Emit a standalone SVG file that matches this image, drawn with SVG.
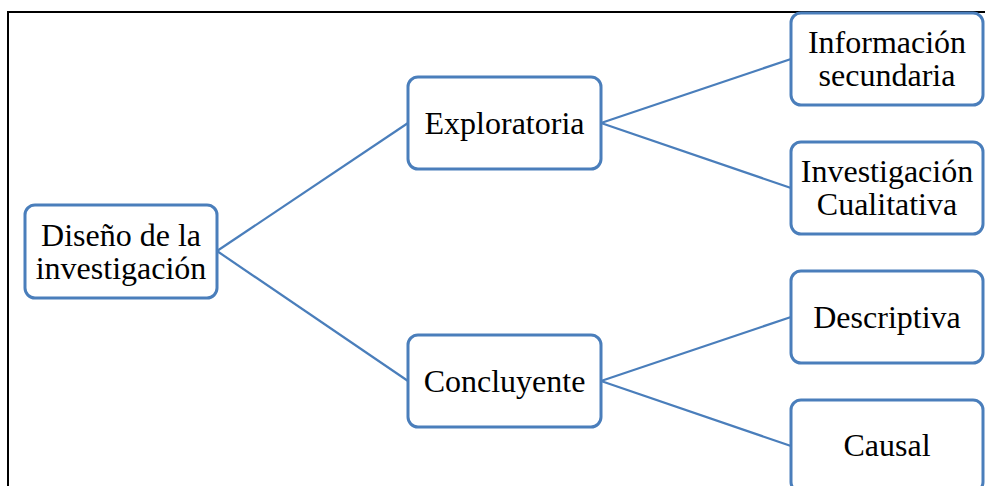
<svg xmlns="http://www.w3.org/2000/svg" width="985" height="486" viewBox="0 0 985 486">
  <style>
    .box { fill: #ffffff; stroke: #4a7ebb; stroke-width: 3; }
    .link { stroke: #4a7ebb; stroke-width: 2.2; fill: none; }
    .label { font-family: "Liberation Serif", "Times New Roman", serif; font-size: 32px; fill: #000000; text-anchor: middle; }
  </style>
  <rect width="985" height="486" fill="#ffffff"/>
  <!-- outer frame -->
  <path d="M8 490 V12 H990" fill="none" stroke="#000000" stroke-width="2"/>

  <g id="connectors">
    <line class="link" x1="217" y1="251" x2="408" y2="123"/>
    <line class="link" x1="217" y1="251" x2="408" y2="381"/>
    <line class="link" x1="601" y1="123" x2="791" y2="59"/>
    <line class="link" x1="601" y1="123" x2="791" y2="188"/>
    <line class="link" x1="601" y1="381" x2="791" y2="317"/>
    <line class="link" x1="601" y1="381" x2="791" y2="446"/>
  </g>

  <g id="diseno">
    <rect class="box" x="25" y="205" width="192" height="93" rx="10"/>
    <text class="label" x="121" y="246">Diseño de la</text>
    <text class="label" x="121" y="279">investigación</text>
  </g>

  <g id="exploratoria">
    <rect class="box" x="408" y="77" width="193" height="92" rx="10"/>
    <text class="label" x="504.5" y="134">Exploratoria</text>
  </g>

  <g id="concluyente">
    <rect class="box" x="408" y="335" width="193" height="92" rx="10"/>
    <text class="label" x="504.5" y="392">Concluyente</text>
  </g>

  <g id="informacion-secundaria">
    <rect class="box" x="791" y="13" width="192" height="92" rx="10"/>
    <text class="label" x="887" y="53">Información</text>
    <text class="label" x="887" y="86">secundaria</text>
  </g>

  <g id="investigacion-cualitativa">
    <rect class="box" x="791" y="142" width="192" height="92" rx="10"/>
    <text class="label" x="887" y="182">Investigación</text>
    <text class="label" x="887" y="215">Cualitativa</text>
  </g>

  <g id="descriptiva">
    <rect class="box" x="791" y="271" width="192" height="92" rx="10"/>
    <text class="label" x="887" y="328">Descriptiva</text>
  </g>

  <g id="causal">
    <rect class="box" x="791" y="400" width="192" height="92" rx="10"/>
    <text class="label" x="887" y="456">Causal</text>
  </g>
</svg>
